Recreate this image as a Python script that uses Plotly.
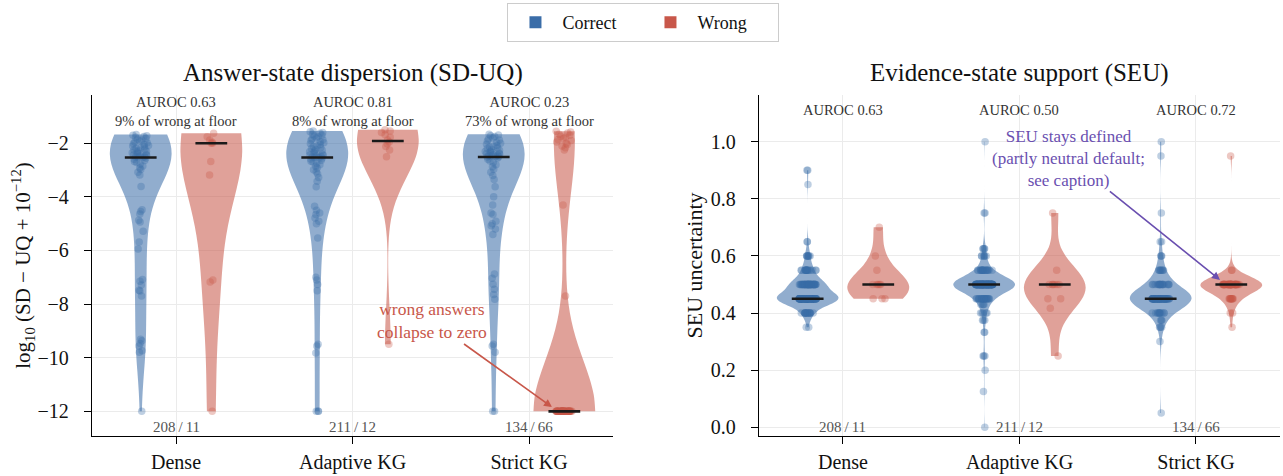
import numpy as np
import plotly.graph_objects as go

# ---------------- data ----------------
categories = ["Dense", "Adaptive KG", "Strict KG"]
count_labels = ["208\u2009/\u200911", "211\u2009/\u200912", "134\u2009/\u200966"]
auroc_sd = ["0.63", "0.81", "0.23"]
floor_pct = ["9%", "8%", "73%"]
auroc_seu = ["0.63", "0.50", "0.72"]

# log10(SD-UQ + 1e-12), per group (values read from the strip points)
sd_dense_correct = [
    -1.67, -1.70, -1.72, -1.75, -1.78, -1.82, -1.85, -1.88, -1.92, -1.95, -1.98,
    -2.02, -2.05, -2.08, -2.10, -2.13, -2.16, -2.19, -2.22, -2.25, -2.27, -2.30,
    -2.32, -2.35, -2.37, -2.40, -2.42, -2.44, -2.46, -2.48, -2.50, -2.51, -2.52,
    -2.53, -2.56, -2.60, -2.64, -2.68, -2.72, -2.78, -2.85, -2.92, -2.98, -3.08,
    -3.18, -3.61, -4.48, -4.55, -4.64, -4.87, -4.94, -5.28, -5.68, -5.94, -7.08,
    -7.15, -7.29, -7.48, -7.51, -7.70, -9.31, -9.37, -9.47, -9.56, -9.74, -9.80,
    -12.0,
]
sd_dense_wrong = [-1.63, -1.76, -1.88, -1.96, -2.00, -2.00, -2.68, -3.18, -7.10, -7.18, -12.0]

sd_adaptive_correct = [
    -1.54, -1.57, -1.60, -1.63, -1.66, -1.70, -1.73, -1.76, -1.80, -1.84, -1.87,
    -1.90, -1.94, -1.98, -2.02, -2.05, -2.09, -2.12, -2.16, -2.20, -2.23, -2.26,
    -2.29, -2.32, -2.35, -2.38, -2.41, -2.44, -2.46, -2.48, -2.50, -2.51, -2.52,
    -2.53, -2.56, -2.59, -2.63, -2.67, -2.71, -2.75, -2.80, -2.86, -2.92, -2.99,
    -3.06, -3.15, -3.28, -3.42, -3.62, -4.35, -4.50, -4.60, -4.66, -4.79, -4.91,
    -5.00, -5.53, -7.00, -7.10, -7.27, -7.50, -9.50, -9.56, -9.82, -12.0, -12.0,
    -12.0,
]
sd_adaptive_wrong = [-1.50, -1.54, -1.60, -1.68, -1.78, -1.88, -1.95, -2.02, -2.12, -2.25, -2.50, -9.50]

sd_strict_correct = [
    -1.66, -1.69, -1.72, -1.75, -1.80, -1.84, -1.88, -1.92, -1.96, -2.00, -2.04,
    -2.08, -2.11, -2.14, -2.17, -2.20, -2.23, -2.26, -2.29, -2.31, -2.33, -2.35,
    -2.37, -2.39, -2.41, -2.43, -2.45, -2.47, -2.48, -2.49, -2.50, -2.51, -2.55,
    -2.60, -2.66, -2.72, -2.80, -2.88, -2.97, -3.08, -3.20, -3.35, -3.62, -4.00,
    -4.30, -4.60, -4.66, -4.91, -5.00, -5.08, -5.20, -5.40, -6.88, -7.04, -7.26,
    -7.45, -7.64, -7.82, -9.50, -9.56, -9.80, -12.0, -12.0,
]
sd_strict_wrong_above_floor = [
    -1.55, -1.58, -1.62, -1.66, -1.70, -1.74, -1.78, -1.82, -1.86, -1.90, -1.95,
    -2.00, -2.05, -2.10, -2.17, -2.25, -4.30, -7.70,
]
sd_floor_value = -12.0
sd_strict_wrong_floor_count = 48

# SEU uncertainty: observed levels and how many answers sit at each level
seu_dense_correct_levels = [0.35, 0.40, 0.45, 0.50, 0.55, 0.60, 0.65, 0.85, 0.90]
seu_dense_correct_counts = [2, 16, 104, 55, 18, 8, 2, 1, 2]
seu_dense_wrong_levels = [0.45, 0.50, 0.55, 0.60, 0.70]
seu_dense_wrong_counts = [3, 5, 1, 1, 1]
seu_adaptive_correct_levels = [0.0, 0.125, 0.20, 0.25, 0.333, 0.375, 0.40, 0.43, 0.45, 0.50, 0.55, 0.60, 0.625, 0.75, 1.0]
seu_adaptive_correct_counts = [1, 1, 1, 3, 2, 3, 5, 4, 22, 136, 20, 6, 4, 2, 1]
seu_adaptive_wrong_levels = [0.25, 0.417, 0.45, 0.50, 0.55, 0.75]
seu_adaptive_wrong_counts = [1, 1, 2, 6, 1, 1]
seu_strict_correct_levels = [0.05, 0.30, 0.35, 0.375, 0.40, 0.45, 0.50, 0.55, 0.60, 0.65, 0.75, 0.95, 1.0]
seu_strict_correct_counts = [1, 1, 3, 3, 12, 78, 20, 8, 3, 2, 1, 1, 1]
seu_strict_wrong_levels = [0.35, 0.40, 0.45, 0.50, 0.55, 0.95]
seu_strict_wrong_counts = [1, 2, 10, 50, 2, 1]

# ---------------- style ----------------
BLUE = (58, 109, 168)
RED = (200, 87, 74)
PURPLE = "#6a4fb0"
FONT = "Liberation Serif"


def rgba(c, a):
    return "rgba(%d,%d,%d,%.3f)" % (c[0], c[1], c[2], a)


sd_strict_wrong = sd_strict_wrong_above_floor + [sd_floor_value] * sd_strict_wrong_floor_count


def expand(levels, counts):
    return np.repeat(np.asarray(levels, float), np.asarray(counts, int))


sd_groups = [
    (sd_dense_correct, sd_dense_wrong),
    (sd_adaptive_correct, sd_adaptive_wrong),
    (sd_strict_correct, sd_strict_wrong),
]
seu_groups = [
    (expand(seu_dense_correct_levels, seu_dense_correct_counts),
     expand(seu_dense_wrong_levels, seu_dense_wrong_counts)),
    (expand(seu_adaptive_correct_levels, seu_adaptive_correct_counts),
     expand(seu_adaptive_wrong_levels, seu_adaptive_wrong_counts)),
    (expand(seu_strict_correct_levels, seu_strict_correct_counts),
     expand(seu_strict_wrong_levels, seu_strict_wrong_counts)),
]

OFF = 0.2
VW = 0.35
fig = go.Figure()

panels = [("x", "y", sd_groups), ("x2", "y2", seu_groups)]
fills, meds, pts = [], [], []
for xa, ya, groups in panels:
    for i, pair in enumerate(groups):
        for vals, off, col in [(pair[0], -OFF, BLUE), (pair[1], OFF, RED)]:
            arr = np.asarray(vals, float)
            bw = arr.std(ddof=1) * len(arr) ** (-0.2)
            pos = i + off
            fills.append(go.Violin(
                x0=pos, y=arr, xaxis=xa, yaxis=ya, orientation="v",
                width=VW, scalemode="width", spanmode="hard", bandwidth=bw,
                fillcolor=rgba(col, 0.56), line=dict(width=0), points=False,
                hoverinfo="skip", showlegend=False))
            med = float(np.median(arr))
            meds.append(go.Scatter(
                x=[pos - 0.09, pos + 0.09], y=[med, med], xaxis=xa, yaxis=ya,
                mode="lines", line=dict(color="#1a1a1a", width=2.6),
                hoverinfo="skip", showlegend=False))
            pts.append(go.Violin(
                x0=pos, y=arr, xaxis=xa, yaxis=ya, orientation="v",
                width=VW, scalemode="width", spanmode="hard", bandwidth=bw,
                fillcolor="rgba(0,0,0,0)", line=dict(width=0, color="rgba(0,0,0,0)"),
                points="all", pointpos=0, jitter=0.28,
                marker=dict(color=rgba(col, 0.33), size=7.5, line=dict(width=0)),
                hoverinfo="skip", showlegend=False))

for t in fills + meds + pts:
    fig.add_trace(t)

# legend entries
for name, col in [("Correct", BLUE), ("Wrong", RED)]:
    fig.add_trace(go.Scatter(x=[None], y=[None], mode="markers", name=name,
                             marker=dict(symbol="square", size=12, color=rgba(col, 1.0)),
                             showlegend=True))

L_DOM = [0.0, 0.4386]
R_DOM = [0.5614, 1.0]

axis_common = dict(showline=True, linecolor="black", linewidth=1.3, ticks="outside",
                   ticklen=7, tickwidth=1.3, tickcolor="black", zeroline=False,
                   showgrid=True, gridcolor="#ebebeb", gridwidth=1, automargin=False,
                   tickfont=dict(family=FONT, size=20, color="#111"))

fig.update_layout(
    width=1283, height=476,
    margin=dict(l=92, r=3, t=95, b=40, autoexpand=False),
    plot_bgcolor="white", paper_bgcolor="white",
    font=dict(family=FONT, size=18, color="#111"),
    violinmode="overlay",
    xaxis=dict(domain=L_DOM, anchor="y", type="linear", range=[-0.476, 2.476],
               tickvals=[0, 1, 2], ticktext=categories, ticklabelstandoff=1,
               **axis_common),
    yaxis=dict(domain=[0, 1], anchor="x", range=[-12.92, -0.2],
               tickvals=[-12, -10, -8, -6, -4, -2], ticklabelstandoff=11,
               title=dict(text="log<sub>10</sub> (SD \u2212 UQ + 10<sup>\u221212</sup>)",
                          font=dict(family=FONT, size=21), standoff=0),
               **axis_common),
    xaxis2=dict(domain=R_DOM, anchor="y2", type="linear", range=[-0.476, 2.476],
                tickvals=[0, 1, 2], ticktext=categories, ticklabelstandoff=1,
                **axis_common),
    yaxis2=dict(domain=[0, 1], anchor="x2", range=[-0.0305, 1.1635],
                tickvals=[0.0, 0.2, 0.4, 0.6, 0.8, 1.0], tickformat=".1f",
                ticklabelstandoff=11,
                title=dict(text="SEU uncertainty", font=dict(family=FONT, size=22), standoff=2),
                **axis_common),
    legend=dict(orientation="h", x=0.4642, xanchor="center", y=1.2698, yanchor="top",
                bordercolor="#cccccc", borderwidth=1, bgcolor="white",
                font=dict(family=FONT, size=18, color="#111"),
                itemwidth=44, entrywidth=76),
    showlegend=True,
)

ann = []
ann.append(dict(text="Answer-state dispersion (SD-UQ)", xref="paper", yref="paper",
                x=sum(L_DOM) / 2, y=1.0645, xanchor="center", yanchor="middle",
                showarrow=False, font=dict(family=FONT, size=25, color="#111")))
ann.append(dict(text="Evidence-state support (SEU)", xref="paper", yref="paper",
                x=sum(R_DOM) / 2, y=1.0645, xanchor="center", yanchor="middle",
                showarrow=False, font=dict(family=FONT, size=25, color="#111")))
for i in range(3):
    ann.append(dict(text="AUROC %s<br>%s of wrong at floor" % (auroc_sd[i], floor_pct[i]),
                    xref="x", yref="y domain", x=i, y=0.953, xanchor="center",
                    yanchor="middle", showarrow=False,
                    font=dict(family=FONT, size=14.5, color="#333")))
    ann.append(dict(text="AUROC %s" % auroc_seu[i], xref="x2", yref="y2 domain", x=i,
                    y=0.956, xanchor="center", yanchor="middle", showarrow=False,
                    font=dict(family=FONT, size=14.5, color="#333")))
    for xr, yr in [("x", "y domain"), ("x2", "y2 domain")]:
        ann.append(dict(text=count_labels[i], xref=xr, yref=yr, x=i, y=0.026,
                        xanchor="center", yanchor="middle", showarrow=False,
                        font=dict(family=FONT, size=15, color="#555")))

ann.append(dict(text="wrong answers<br>collapse to zero", xref="x", yref="y",
                x=2.13, y=-11.84, axref="x", ayref="y", ax=1.45, ay=-8.63,
                showarrow=True, arrowhead=2, arrowsize=1, arrowwidth=1.6,
                arrowcolor=rgba(RED, 1.0),
                font=dict(family=FONT, size=17.5, color=rgba(RED, 1.0))))
ann.append(dict(text="SEU stays defined<br>(partly neutral default;<br>see caption)",
                xref="x2", yref="y2", x=2.136, y=0.516, axref="x2", ayref="y2",
                ax=1.28, ay=0.942, showarrow=True, arrowhead=2, arrowsize=1,
                arrowwidth=1.6, arrowcolor=PURPLE,
                font=dict(family=FONT, size=17, color=PURPLE)))
fig.update_layout(annotations=ann)

fig.write_html("out.html", config={"displayModeBar": False},
               post_script="document.body.style.margin='0';document.body.style.overflow='hidden';")
